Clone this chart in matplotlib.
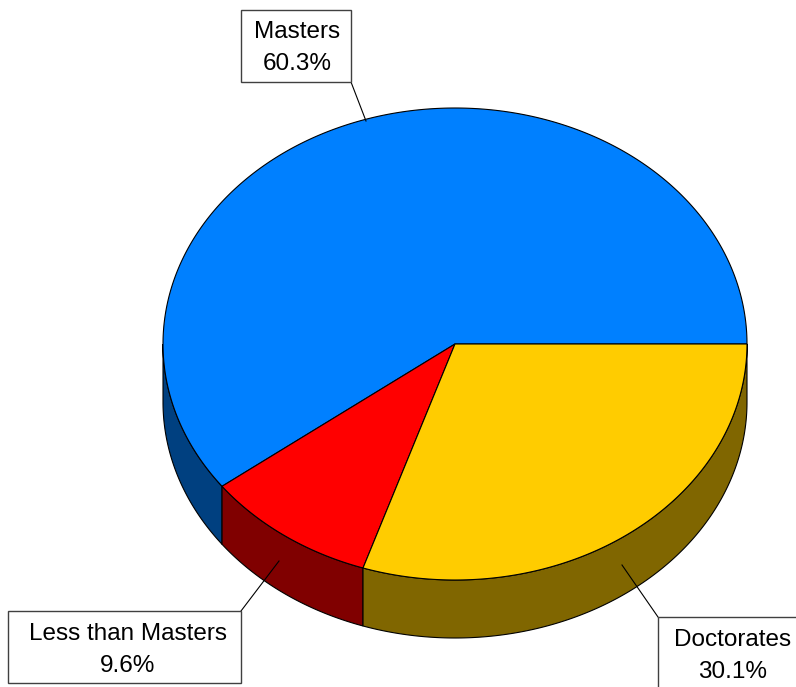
import numpy as np
import matplotlib
matplotlib.use("Agg")
import matplotlib.pyplot as plt
from matplotlib.patches import Polygon, Rectangle

# ── 데이터 ─────────────────────────────────────────
labels = ["Masters", "Less than Masters", "Doctorates"]
shares = [60.3, 9.6, 30.1]
top_colors = ["#0080FF", "#FF0000", "#FFCC00"]
side_colors = ["#004080", "#800000", "#806600"]

# ── 기하 (픽셀 좌표) ───────────────────────────────
cx, cy = 455, 344
rx, ry = 292, 236
depth = 58

plt.rcParams["font.family"] = ["Liberation Sans", "DejaVu Sans"]

fig = plt.figure(figsize=(7.96, 6.87), dpi=100)
ax = fig.add_axes([0, 0, 1, 1])
ax.set_xlim(0, 796)
ax.set_ylim(687, 0)
ax.set_axis_off()


def pt(theta_deg, dy=0.0):
    t = np.deg2rad(theta_deg)
    return cx + rx * np.cos(t), cy - ry * np.sin(t) + dy


bounds = np.concatenate([[0], np.cumsum(shares) / sum(shares) * 360])

# 측면 (앞쪽 절반만)
for i in range(len(shares)):
    a0, a1 = max(bounds[i], 180), min(bounds[i + 1], 360)
    if a1 <= a0:
        continue
    th = np.linspace(a0, a1, 200)
    top = [pt(t) for t in th]
    bot = [pt(t, depth) for t in th[::-1]]
    ax.add_patch(Polygon(top + bot, closed=True, facecolor=side_colors[i],
                         edgecolor="black", linewidth=0.8, zorder=1))

# 윗면
for i in range(len(shares)):
    th = np.linspace(bounds[i], bounds[i + 1], 300)
    verts = [(cx, cy)] + [pt(t) for t in th]
    ax.add_patch(Polygon(verts, closed=True, facecolor=top_colors[i],
                         edgecolor="black", linewidth=0.8, zorder=2))

# ── 라벨 상자 ───────────────────────────────────────
boxes = [
    # (x0, y0, x1, y1, text_x, 선 시작, 선 끝)
    (241, 10, 351, 82, 297, (351, 82), (366, 121)),
    (8, 611, 241, 683, 128, (241, 611), (279, 561)),
    (658, 617, 810, 700, 733, (658, 617), (622, 565)),
]
for (x0, y0, x1, y1, tx, p0, p1), lab, val in zip(boxes, labels, shares):
    ax.plot([p0[0], p1[0]], [p0[1], p1[1]], color="black", linewidth=0.8, zorder=3)
    ax.add_patch(Rectangle((x0, y0), x1 - x0, y1 - y0, facecolor="white",
                           edgecolor="#404040", linewidth=1, zorder=4))
    ax.text(tx, y0 + 28.5, lab, ha="center", va="baseline", fontsize=17.5,
            color="black", zorder=5)
    ax.text(tx, y0 + 60.5, f"{val:.1f}%", ha="center", va="baseline", fontsize=17.5,
            color="black", zorder=5)

fig.savefig("out.png", dpi=100, facecolor="white")
